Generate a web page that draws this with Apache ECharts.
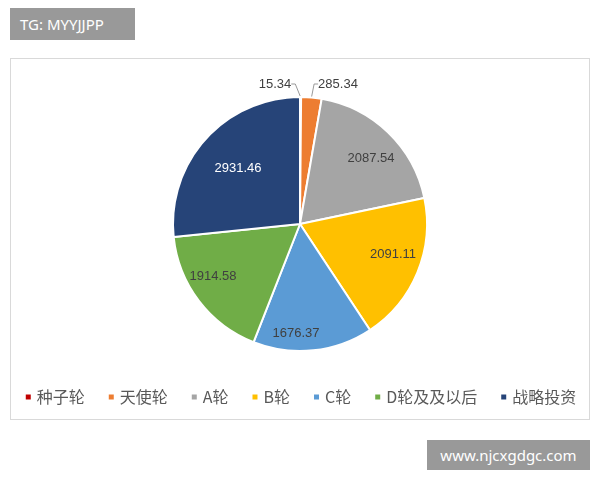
<!DOCTYPE html>
<html lang="en">
<head>
    <meta charset="UTF-8">
    <title>Pie</title>
    <style>
        body { margin: 0; background: #fff; }
        #frame { position: absolute; left: 10px; top: 58px; width: 578px; height: 360px; border: 1px solid #d9d9d9; }
        .tag { position: absolute; background: #999; color: #fff; font-family: "Noto Sans", sans-serif; font-size: 15px; }
    </style>
</head>
<body>
<div class="tag" style="left:10px;top:8px;width:125px;height:32px;line-height:32px;padding-left:10px;box-sizing:border-box;">TG: MYYJJPP</div>
<div id="frame"></div>
<div id="chart" style="position:absolute;left:0;top:0;width:600px;height:480px;"></div>
<div class="tag" style="left:427px;top:440px;width:163px;height:30px;line-height:30px;text-align:center;">www.njcxgdgc.com</div>
<script src="https://cdn.jsdelivr.net/npm/echarts@6/dist/echarts.min.js"></script>
<script>
    var names = ['种子轮', '天使轮', 'A轮', 'B轮', 'C轮', 'D轮及及以后', '战略投资'];
    var values = [15.34, 285.34, 2087.54, 2091.11, 1676.37, 1914.58, 2931.46];
    var colors = ['#c00000', '#ed7d31', '#a5a5a5', '#ffc000', '#5b9bd5', '#70ad47', '#264478'];
    var labelColors = ['#404040', '#404040', '#404040', '#404040', '#404040', '#404040', '#ffffff'];

    var data = names.map(function (n, i) {
        var d = {name: n, value: values[i], label: {color: labelColors[i]}};
        if (i < 2) {
            d.label = {position: 'outside', color: '#404040'};
            d.labelLine = {show: true, length: 6, length2: 4, lineStyle: {color: '#999'}};
        }
        return d;
    });

    // label anchor spots
    var spots = [[275, 84], [338, 84], [371, 158], [393, 254], [296, 333], [213, 276], [238, 168]];

    var chart = echarts.init(document.getElementById('chart'));
    chart.setOption({
        color: colors,
        animation: false,
        legend: {
            bottom: 70, left: 'center', icon: 'rect', itemWidth: 7, itemHeight: 7, itemGap: 22,
            textStyle: {color: '#595959', fontSize: 16, fontFamily: 'Noto Sans CJK SC'}
        },
        series: [{
            type: 'pie',
            center: [300, 224],
            radius: [0, 127],
            startAngle: 90,
            data: data,
            itemStyle: {borderColor: '#fff', borderWidth: 2},
            label: {
                position: 'inside', formatter: '{c}', fontSize: 13,
                fontFamily: 'Liberation Sans'
            },
            labelLine: {show: false},
            labelLayout: function (p) {
                var s = spots[p.dataIndex];
                return {x: s[0], y: s[1], align: 'center', verticalAlign: 'middle'};
            }
        }]
    });
</script>
</body>
</html>
